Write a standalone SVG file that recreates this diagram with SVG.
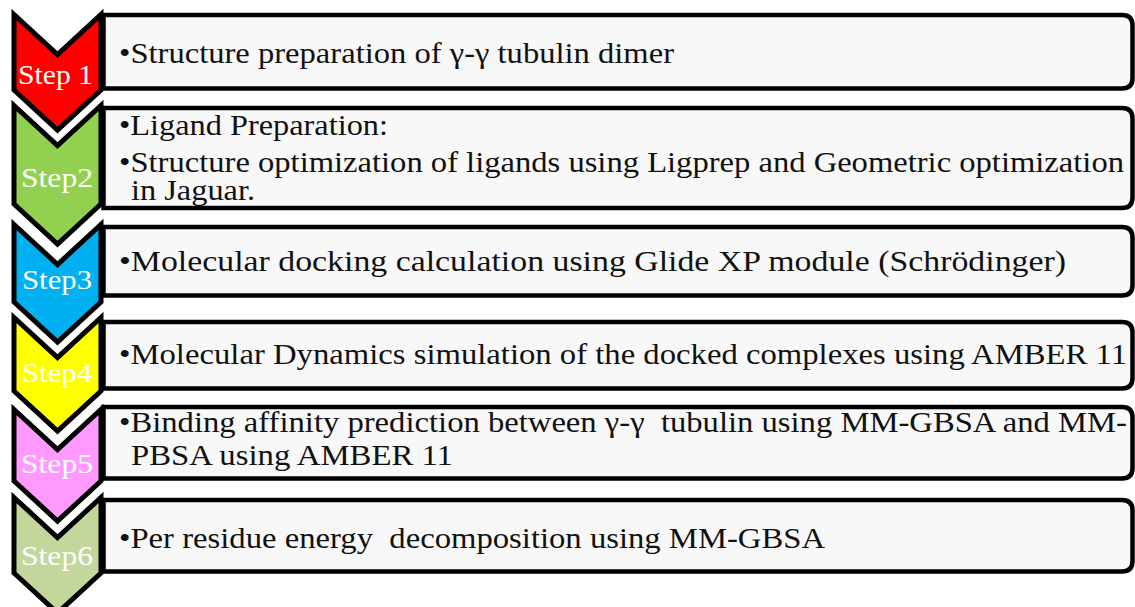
<svg xmlns="http://www.w3.org/2000/svg" width="1135" height="607" viewBox="0 0 1135 607">
<style>
.chev{stroke:#000;stroke-width:5;stroke-linejoin:miter}
.box{fill:#F8F8F8;stroke:#000;stroke-width:4.5}
.lbl{font-family:"Liberation Serif","DejaVu Serif",serif;font-size:28px;fill:#fff;text-anchor:middle}
.txt{font-family:"Liberation Serif","DejaVu Serif",serif;font-size:29px;fill:#111}
</style>
<rect width="1135" height="607" fill="#fff"/>
<g id="step1">
<path class="chev" fill="#FF0000" d="M14,14.5 L57.5,54.5 L101,14.5 L101,90 L57.5,130 L14,90 Z"/>
<path class="box" d="M103.5,15 H1122 Q1132.5,15 1132.5,25.5 V78 Q1132.5,88.5 1122,88.5 H103.5 Z"/>
<text class="lbl" x="55.5" y="84" textLength="75" lengthAdjust="spacingAndGlyphs">Step 1</text>
<text class="txt" x="119" y="63" textLength="555" lengthAdjust="spacingAndGlyphs">•Structure preparation of γ-γ tubulin dimer</text>
</g>
<g id="step2">
<path class="chev" fill="#92D050" d="M14,105.5 L57.5,145.5 L101,105.5 L101,204 L57.5,244 L14,204 Z"/>
<path class="box" d="M103.5,108 H1122 Q1132.5,108 1132.5,118.5 V197.5 Q1132.5,208 1122,208 H103.5 Z"/>
<text class="lbl" x="57" y="187" textLength="72" lengthAdjust="spacingAndGlyphs">Step2</text>
<text class="txt" x="119" y="135" textLength="269" lengthAdjust="spacingAndGlyphs">•Ligand Preparation:</text>
<text class="txt" x="119" y="172" textLength="1005" lengthAdjust="spacingAndGlyphs">•Structure optimization of ligands using Ligprep and Geometric optimization</text>
<text class="txt" x="131" y="200" textLength="124" lengthAdjust="spacingAndGlyphs">in Jaguar.</text>
</g>
<g id="step3">
<path class="chev" fill="#00B0F0" d="M14,224.5 L57.5,264.5 L101,224.5 L101,302 L57.5,342 L14,302 Z"/>
<path class="box" d="M103.5,227 H1122 Q1132.5,227 1132.5,237.5 V285 Q1132.5,295.5 1122,295.5 H103.5 Z"/>
<text class="lbl" x="57" y="289" textLength="70" lengthAdjust="spacingAndGlyphs">Step3</text>
<text class="txt" x="119" y="271" textLength="947" lengthAdjust="spacingAndGlyphs">•Molecular docking calculation using Glide XP module (Schrödinger)</text>
</g>
<g id="step4">
<path class="chev" fill="#FFFF00" d="M14,317.5 L57.5,357.5 L101,317.5 L101,391 L57.5,431 L14,391 Z"/>
<path class="box" d="M103.5,322 H1122 Q1132.5,322 1132.5,332.5 V378 Q1132.5,388.5 1122,388.5 H103.5 Z"/>
<text class="lbl" x="57" y="382" textLength="70" lengthAdjust="spacingAndGlyphs">Step4</text>
<text class="txt" x="119" y="364" textLength="1008" lengthAdjust="spacingAndGlyphs">•Molecular Dynamics simulation of the docked complexes using AMBER 11</text>
</g>
<g id="step5">
<path class="chev" fill="#FF99FF" d="M14,409.5 L57.5,449.5 L101,409.5 L101,481 L57.5,521 L14,481 Z"/>
<path class="box" d="M103.5,407 H1122 Q1132.5,407 1132.5,417.5 V468 Q1132.5,478.5 1122,478.5 H103.5 Z"/>
<text class="lbl" x="57" y="473" textLength="72" lengthAdjust="spacingAndGlyphs">Step5</text>
<text class="txt" x="119" y="432" textLength="1008" lengthAdjust="spacingAndGlyphs">•Binding affinity prediction between γ-γ&#160; tubulin using MM-GBSA and MM-</text>
<text class="txt" x="131" y="465" textLength="322" lengthAdjust="spacingAndGlyphs">PBSA using AMBER 11</text>
</g>
<g id="step6">
<path class="chev" fill="#C3D69B" d="M14,497.5 L57.5,537.5 L101,497.5 L101,573 L57.5,613 L14,573 Z"/>
<path class="box" d="M103.5,500 H1122 Q1132.5,500 1132.5,510.5 V561 Q1132.5,571.5 1122,571.5 H103.5 Z"/>
<text class="lbl" x="57" y="565" textLength="72" lengthAdjust="spacingAndGlyphs">Step6</text>
<text class="txt" x="119" y="548" textLength="706" lengthAdjust="spacingAndGlyphs">•Per residue energy&#160; decomposition using MM-GBSA</text>
</g>
<g id="connectors"></g>
</svg>
